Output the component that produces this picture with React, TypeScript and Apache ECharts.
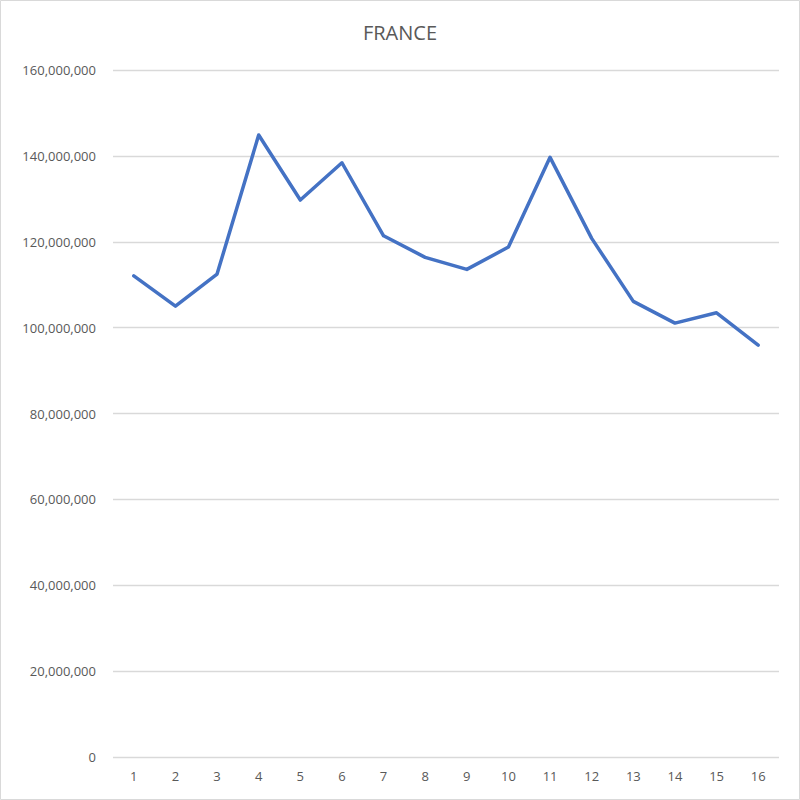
import React, { useEffect, useRef } from "react";
import * as echarts from "echarts";

const categories = ["1", "2", "3", "4", "5", "6", "7", "8", "9", "10", "11", "12", "13", "14", "15", "16"];
const franceValues = [
  112070000, 105010000, 112470000, 144850000, 129710000, 138400000, 121390000, 116360000,
  113560000, 118760000, 139660000, 120790000, 106110000, 101050000, 103450000, 95930000,
];
const chartTitle = "FRANCE";
const yMin = 0;
const yMax = 160000000;
const yInterval = 20000000;

export default function App() {
  const ref = useRef<HTMLDivElement>(null);
  useEffect(() => {
    document.body.style.margin = "0";
    const chart = echarts.init(ref.current!, null, { renderer: "svg" });
    chart.setOption({
      animation: false,
      backgroundColor: "#ffffff",
      title: {
        text: chartTitle,
        left: "center",
        top: 17,
        textStyle: {
          fontFamily: "Open Sans",
          fontSize: 20,
          fontWeight: "normal",
          color: "#595959",
        },
      },
      grid: { left: 113, right: 21, top: 70, bottom: 43, containLabel: false },
      xAxis: {
        type: "category",
        data: categories,
        boundaryGap: true,
        axisLine: { show: false },
        axisTick: { show: false },
        axisLabel: {
          color: "#595959",
          fontFamily: "Open Sans",
          fontSize: 13,
          margin: 12,
        },
      },
      yAxis: {
        type: "value",
        min: yMin,
        max: yMax,
        interval: yInterval,
        axisLine: { show: false },
        axisTick: { show: false },
        splitLine: { lineStyle: { color: "#d9d9d9", width: 1.3 } },
        axisLabel: {
          color: "#595959",
          fontFamily: "Open Sans",
          fontSize: 13,
          margin: 17,
          formatter: (v: number) => v.toLocaleString("en-US"),
        },
      },
      series: [
        {
          type: "line",
          data: franceValues,
          symbol: "none",
          lineStyle: { color: "#4472C4", width: 3.5, join: "round", cap: "round" },
        },
      ],
      graphic: [
        {
          type: "rect",
          shape: { x: 0.5, y: 0.5, width: 799, height: 799 },
          style: { fill: "none", stroke: "#d9d9d9", lineWidth: 1 },
          silent: true,
        },
      ],
    });
    return () => chart.dispose();
  }, []);
  return <div ref={ref} style={{ width: 800, height: 800 }} />;
}
